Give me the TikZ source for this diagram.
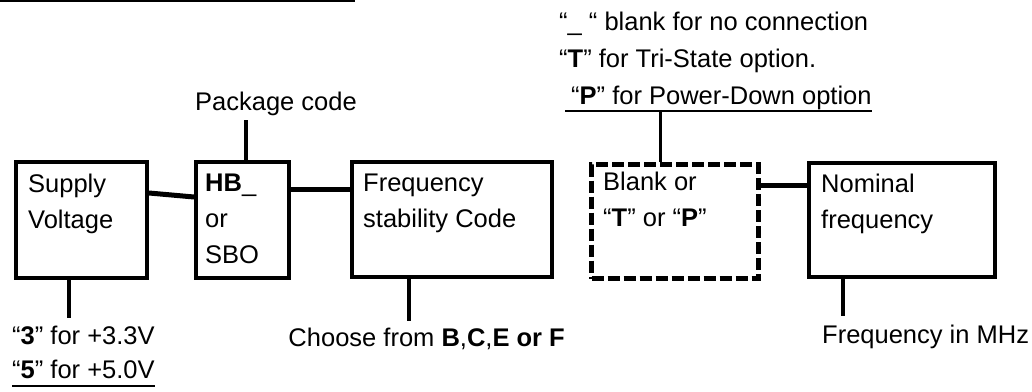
\documentclass[tikz,border=0pt]{standalone}
\usepackage{fontspec}
\setmainfont{Liberation Sans}
\begin{document}
\begin{tikzpicture}[x=1pt,y=-1pt,
  box/.style={draw, line width=4pt, inner sep=0pt, anchor=north west},
  dbox/.style={box, line width=5pt, dash pattern=on 12pt off 4pt},
  lbl/.style={inner sep=0pt, align=left, font=\fontsize{25.5}{36}\selectfont},
  conn/.style={line width=5pt},
  tick/.style={line width=3.5pt},
  uline/.style={line width=2pt}]
\useasboundingbox (0,0) rectangle (1032,391);
% title underline (cut off)
\draw[uline] (0,1) -- (355,1);
% boxes
\node[box, minimum width=131pt, minimum height=116pt] (supply) at (14,160) {};
\node[box, minimum width=93pt, minimum height=116pt] (hb) at (194,160) {};
\node[box, minimum width=200pt, minimum height=115pt] (freq) at (350,160) {};
\node[dbox, minimum width=167pt, minimum height=114pt] (blank) at (589,162) {};
\node[box, minimum width=186pt, minimum height=114pt] (nominal) at (807,161) {};
% box texts
\node[lbl, anchor=north west] (supplyt) at ([shift={(14,13.5)}]supply.north west) {Supply\\Voltage};
\node[lbl, anchor=north west] (hbt) at ([shift={(11,13.5)}]hb.north west) {\textbf{HB}\_\\or\\SBO};
\node[lbl, anchor=north west] (freqt) at ([shift={(13,13.5)}]freq.north west) {Frequency\\stability Code};
\node[lbl, anchor=north west] (blankt) at ([shift={(14,10)}]blank.north west) {Blank or\\“\textbf{T}” or “\textbf{P}”};
\node[lbl, anchor=north west] (nominalt) at ([shift={(14,12.5)}]nominal.north west) {Nominal\\frequency};
% connectors between boxes
\draw[conn] ([shift={(0,33)}]supply.north east) -- ([shift={(0,37)}]hb.north west);
\draw[conn] ([shift={(0,29)}]hb.north east) -- ([shift={(0,29)}]freq.north west);
\draw[conn] ([shift={(0,23)}]blank.north east) -- ([shift={(0,24)}]nominal.north west);
% top labels
\node[lbl, anchor=base west] (pkg) at (195,110) {Package code};
\draw[tick] ([shift={(3.5,0)}]hb.north) -- ([shift={(3.5,5)}]hb.north |- pkg.south);
\node[lbl, anchor=base west] (opt1) at (559,30) {“\_ “ blank for no connection};
\node[lbl, anchor=base west] (opt2) at (559,67) {“\textbf{T}” for Tri-State option.};
\node[lbl, anchor=base west] (opt3) at (571,104) {“\textbf{P}” for Power-Down option};
\draw[uline] ([shift={(-6,7)}]opt3.base west) -- ([shift={(0,7)}]opt3.base east);
\coordinate (optline) at ([shift={(-14.5,0)}]blank.north |- opt3.base);
\draw[tick] ([shift={(-14.5,0)}]blank.north) -- ([shift={(0,7)}]optline);
% bottom labels
\node[lbl, anchor=base west] (v3) at (12,344) {“\textbf{3}” for +3.3V};
\node[lbl, anchor=base west] (v5) at (12,378) {“\textbf{5}” for +5.0V};
\draw[uline] ([shift={(0,8)}]v5.base west) -- ([shift={(0,8)}]v5.base east);
\node[lbl, anchor=base east] (choose) at (565,346) {Choose from \textbf{B},\textbf{C},\textbf{E or F}};
\node[lbl, anchor=base west] (mhz) at (822,343) {Frequency in MHz};
\draw[tick] ([shift={(-12.5,0)}]supply.south) -- ([shift={(-12.5,-7)}]supply.south |- v3.north);
\draw[tick] ([shift={(-43,0)}]freq.south) -- ([shift={(-43,-6)}]freq.south |- choose.north);
\draw[tick] ([shift={(-59,0)}]nominal.south) -- ([shift={(-59,-8)}]nominal.south |- mhz.north);
\end{tikzpicture}
\end{document}
